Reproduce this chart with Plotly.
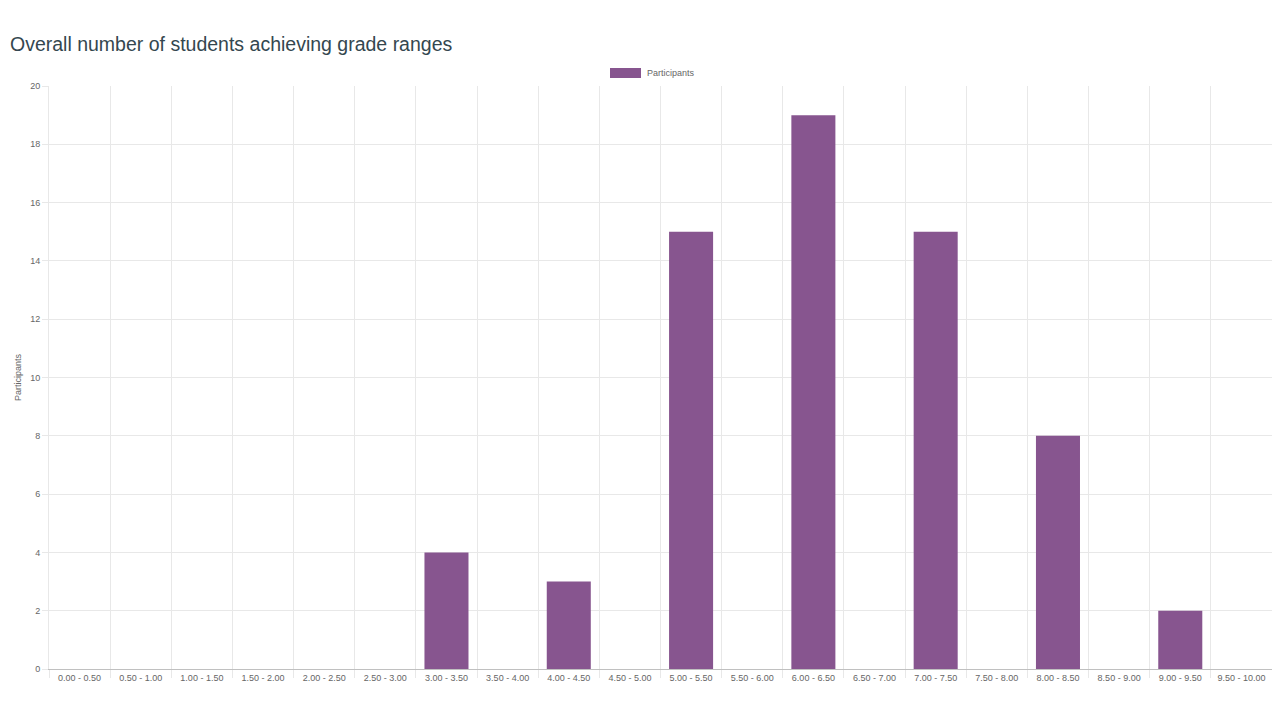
import plotly.graph_objects as go

# grade ranges and how many students fell into each
grade_ranges = [
    "0.00 - 0.50", "0.50 - 1.00", "1.00 - 1.50", "1.50 - 2.00", "2.00 - 2.50",
    "2.50 - 3.00", "3.00 - 3.50", "3.50 - 4.00", "4.00 - 4.50", "4.50 - 5.00",
    "5.00 - 5.50", "5.50 - 6.00", "6.00 - 6.50", "6.50 - 7.00", "7.00 - 7.50",
    "7.50 - 8.00", "8.00 - 8.50", "8.50 - 9.00", "9.00 - 9.50", "9.50 - 10.00",
]
participants = [0, 0, 0, 0, 0, 0, 4, 0, 3, 0, 15, 0, 19, 0, 15, 0, 8, 0, 2, 0]
y_ticks = list(range(0, 21, 2))
series_name = "Participants"

bar_color = "#87558f"
grid_color = "#e8e8e8"
tick_font = dict(family="Liberation Sans, Arial, sans-serif", size=9, color="#666666")

# page body has an 8px margin, so the figure is a bit smaller than the window
W, H = 1272, 712
L, R, T, B = 41, 8, 78, 51

fig = go.Figure(
    go.Bar(
        x=grade_ranges, y=participants, name=series_name,
        marker=dict(color=bar_color, line=dict(width=0)),
        showlegend=False,
    )
)

# chart.js style legend: wide colour box + label, centred above the plot
fig.add_shape(
    type="rect", xref="paper", yref="paper",
    x0=(602 - L) / (W - L - R), x1=(633 - L) / (W - L - R),
    y0=1 + (T - 70) / (H - T - B), y1=1 + (T - 60) / (H - T - B),
    fillcolor=bar_color, line=dict(width=0),
)
fig.add_annotation(
    text=series_name, xref="paper", yref="paper",
    x=(637 - L) / (W - L - R), xanchor="left",
    y=1 + (T - 65) / (H - T - B), yanchor="middle",
    showarrow=False, font=tick_font,
)

fig.update_layout(
    width=W, height=H,
    paper_bgcolor="white", plot_bgcolor="white",
    margin=dict(l=L, r=R, t=T, b=B),
    bargap=0.28,
    title=dict(
        text="Overall number of students achieving grade ranges",
        x=2 / W, xanchor="left", y=1 - 36 / H, yanchor="middle",
        font=dict(family="Liberation Sans, Arial, sans-serif", size=19.5, color="#34474f"),
    ),
)

fig.update_xaxes(
    type="category", tickson="boundaries",
    showgrid=True, gridcolor=grid_color, gridwidth=1,
    ticks="outside", ticklen=8, tickcolor=grid_color,
    showline=True, linecolor="#c0c0c0",
    tickfont=tick_font, tickangle=0,
)
fig.update_yaxes(
    range=[0, 20], tickvals=y_ticks,
    showgrid=True, gridcolor=grid_color, gridwidth=1,
    ticks="outside", ticklen=6, tickcolor=grid_color,
    showline=True, linecolor=grid_color, zeroline=False,
    tickfont=tick_font,
    title=dict(text="Participants", font=tick_font, standoff=7),
)

fig.write_html("out.html")
